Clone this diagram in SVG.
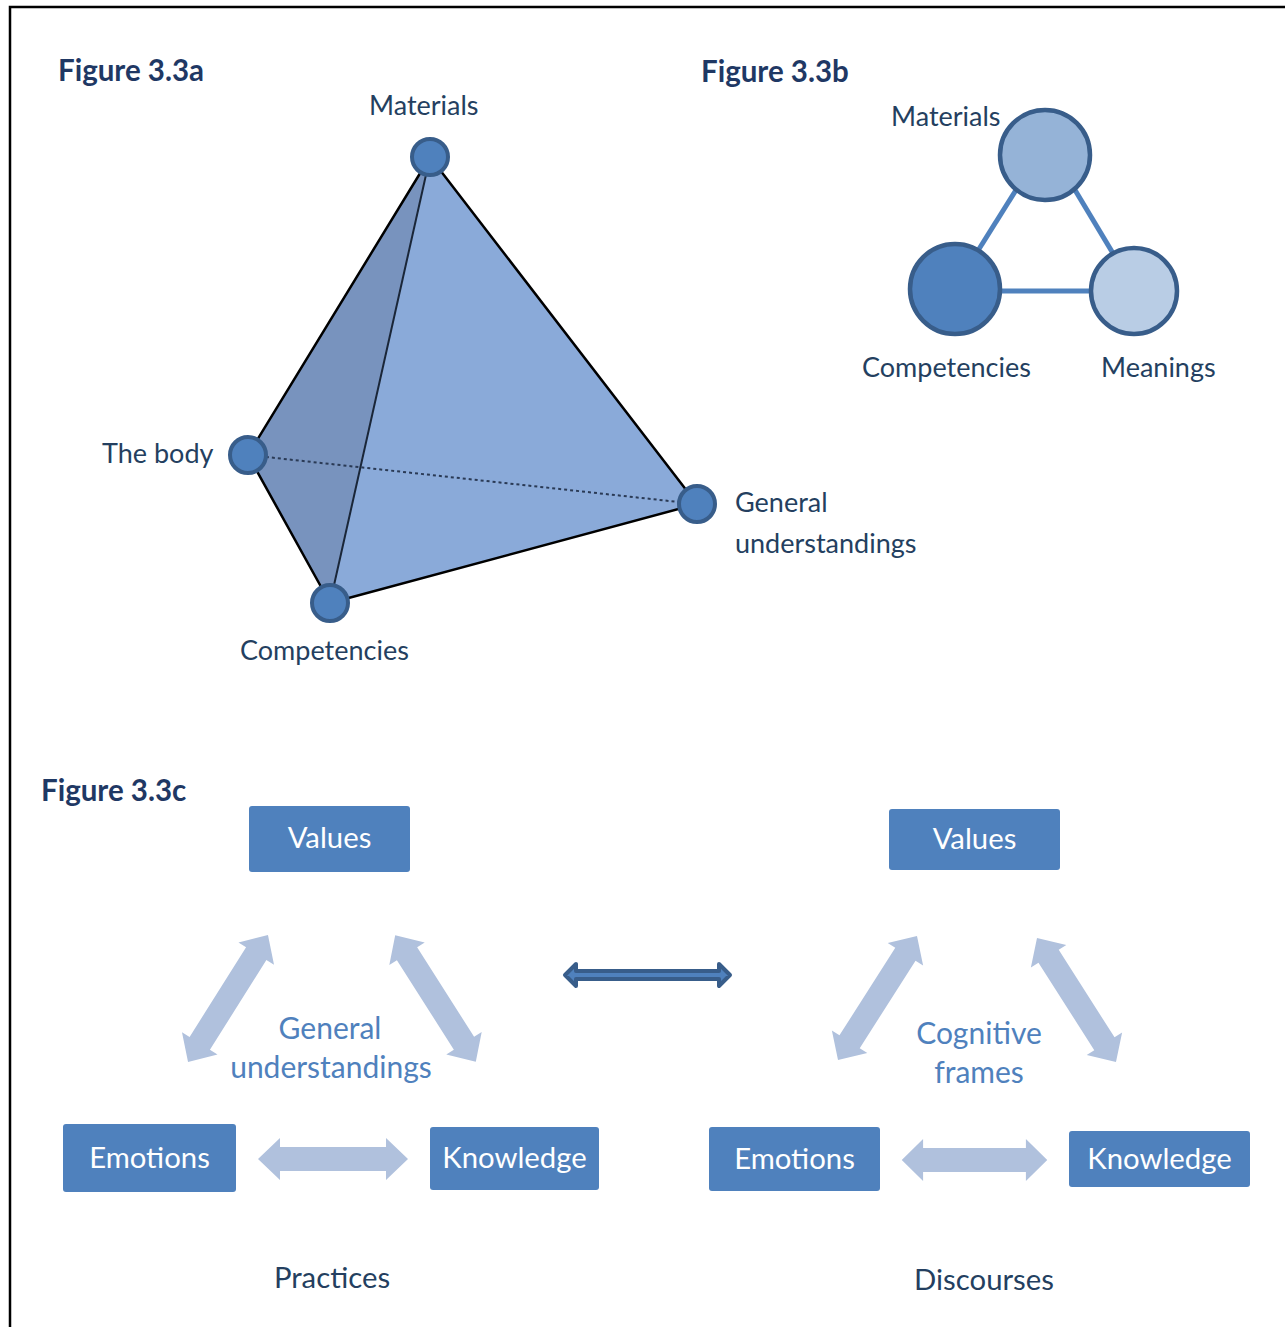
<svg xmlns="http://www.w3.org/2000/svg" width="1285" height="1327" viewBox="0 0 1285 1327">
<style>
.fig{font-family:Lato,"Liberation Sans",sans-serif;font-weight:bold;font-size:29.5px;fill:#1F3864}
.lbl{font-family:Lato,"Liberation Sans",sans-serif;font-size:27px;fill:#243F60}
.box{fill:#4F81BD}
.bt{font-family:Lato,"Liberation Sans",sans-serif;font-size:29.3px;fill:#FFFFFF;text-anchor:middle}
.mid{font-family:Lato,"Liberation Sans",sans-serif;font-size:30px;fill:#4F81BD;text-anchor:middle}
.cap{font-family:Lato,"Liberation Sans",sans-serif;font-size:29.3px;fill:#243F60;text-anchor:middle}
.vtx{fill:#4F81BD;stroke:#385D8A;stroke-width:4}
.fat{fill:#B0C1DD}
.link{stroke:#4F81BD;stroke-width:5}
</style>
<defs>
<path id="fatArrow" d="M -75,0 L -53,-21 L -53,-12 L 53,-12 L 53,-21 L 75,0 L 53,21 L 53,12 L -53,12 L -53,21 Z"/>
</defs>
<rect width="1285" height="1327" fill="#FFFFFF"/>
<path d="M 10,1327 L 10,7 L 1285,7" fill="none" stroke="#000" stroke-width="2.5"/>

<!-- Figure 3.3a -->
<text class="fig" x="58" y="81">Figure 3.3a</text>
<g id="tetra">
<polygon points="430,157 248,455 330,603" fill="#7893BE"/>
<polygon points="430,157 330,603 697,504" fill="#8AAAD9"/>
<path d="M 430,157 L 248,455 L 330,603 L 697,504 Z" fill="none" stroke="#000" stroke-width="2.5" stroke-linejoin="round"/>
<line x1="430" y1="157" x2="330" y2="603" stroke="#1A2638" stroke-width="2"/>
<line x1="248" y1="455" x2="697" y2="504" stroke="#2A3A55" stroke-width="2" stroke-dasharray="3,3"/>
</g>
<g id="a-materials"><circle class="vtx" cx="430" cy="157" r="18"/><text class="lbl" x="369" y="115">Materials</text></g>
<g id="a-body"><circle class="vtx" cx="248" cy="455" r="18"/><text class="lbl" x="102" y="463">The body</text></g>
<g id="a-competencies"><circle class="vtx" cx="330" cy="603" r="18"/><text class="lbl" x="240" y="660">Competencies</text></g>
<g id="a-general"><circle class="vtx" cx="697" cy="504" r="18"/><text class="lbl" x="735" y="512">General</text><text class="lbl" x="735" y="553">understandings</text></g>

<!-- Figure 3.3b -->
<text class="fig" x="701" y="82">Figure 3.3b</text>
<g id="b-connectors">
<line class="link" x1="1016" y1="190" x2="979" y2="249"/>
<line class="link" x1="1075" y1="190" x2="1117" y2="260"/>
<line class="link" x1="999" y1="291" x2="1092" y2="291"/>
</g>
<g id="b-materials"><circle cx="1045" cy="155" r="45" fill="#95B3D7" stroke="#385D8A" stroke-width="4.5"/><text class="lbl" x="891" y="126">Materials</text></g>
<g id="b-competencies"><circle cx="955" cy="289" r="45" fill="#4F81BD" stroke="#385D8A" stroke-width="4.5"/><text class="lbl" x="862" y="377">Competencies</text></g>
<g id="b-meanings"><circle cx="1134" cy="291" r="43" fill="#B9CDE5" stroke="#385D8A" stroke-width="4.5"/><text class="lbl" x="1101" y="377">Meanings</text></g>

<!-- Figure 3.3c -->
<text class="fig" x="41" y="801">Figure 3.3c</text>
<g id="connectors">
<use href="#fatArrow" class="fat" transform="translate(333,1159)"/>
<use href="#fatArrow" class="fat" transform="translate(974.5,1160) scale(0.97,1)"/>
<use href="#fatArrow" class="fat" transform="translate(228,998.5) rotate(-57.8)"/>
<use href="#fatArrow" class="fat" transform="translate(435.5,998.5) rotate(57.5)"/>
<use href="#fatArrow" class="fat" transform="translate(877.5,998) rotate(-57.5) scale(0.98,1)"/>
<use href="#fatArrow" class="fat" transform="translate(1076.5,1000) rotate(57.5) scale(0.98,1)"/>
<path d="M 565,975 L 576,964 L 576,971 L 719,971 L 719,964 L 730,975 L 719,986 L 719,979 L 576,979 L 576,986 Z" fill="#4F81BD" stroke="#385D8A" stroke-width="4" stroke-linejoin="round"/>
</g>
<g id="l-values"><rect class="box" x="249" y="806" width="161" height="66" rx="3"/><text class="bt" x="329.5" y="848">Values</text></g>
<g id="l-emotions"><rect class="box" x="63" y="1124" width="173" height="68" rx="3"/><text class="bt" x="149.5" y="1168">Emotions</text></g>
<g id="l-knowledge"><rect class="box" x="430" y="1127" width="169" height="63" rx="3"/><text class="bt" x="514.5" y="1168">Knowledge</text></g>
<g id="l-center"><text class="mid" x="330" y="1039">General</text><text class="mid" x="331" y="1078">understandings</text></g>
<g id="l-caption"><text class="cap" x="332" y="1288">Practices</text></g>

<g id="r-values"><rect class="box" x="889" y="809" width="171" height="61" rx="3"/><text class="bt" x="974.5" y="849">Values</text></g>
<g id="r-emotions"><rect class="box" x="709" y="1127" width="171" height="64" rx="3"/><text class="bt" x="794.5" y="1169">Emotions</text></g>
<g id="r-knowledge"><rect class="box" x="1069" y="1131" width="181" height="56" rx="3"/><text class="bt" x="1159.5" y="1169">Knowledge</text></g>
<g id="r-center"><text class="mid" x="979" y="1044">Cognitive</text><text class="mid" x="979" y="1083">frames</text></g>
<g id="r-caption"><text class="cap" x="984" y="1290">Discourses</text></g>
</svg>
